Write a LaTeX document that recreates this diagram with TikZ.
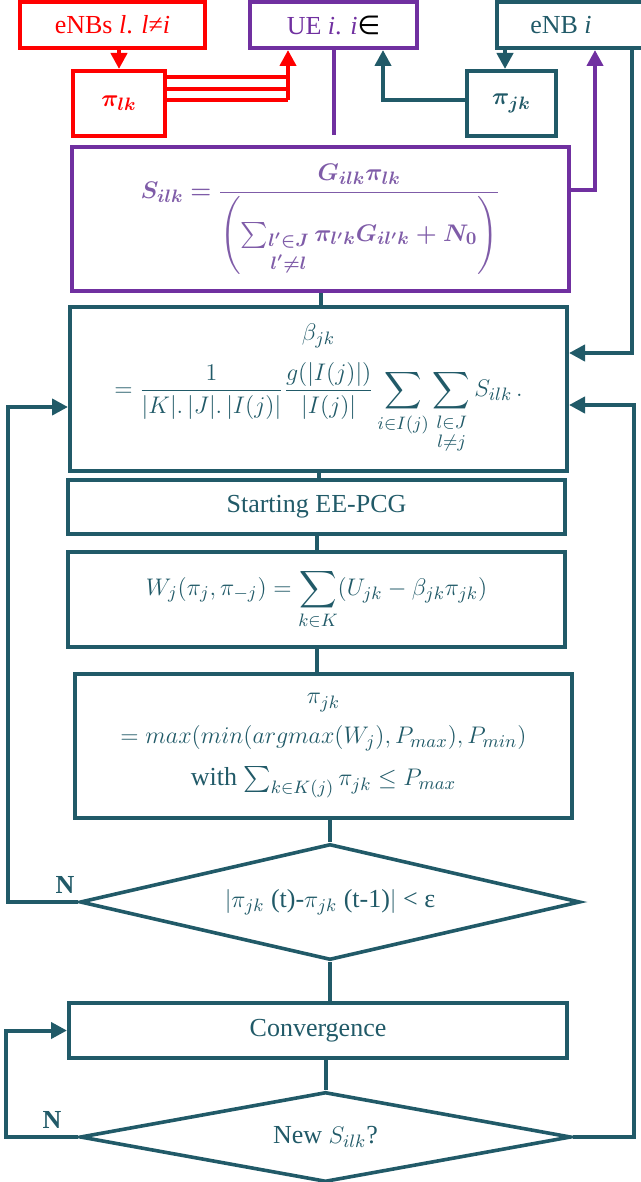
\documentclass[tikz,border=0pt]{standalone}
\usepackage{amsmath,amssymb}
\usepackage{bm}
\usepackage{fontspec}
\setmainfont{Liberation Serif}
\newfontfamily\symfont{DejaVu Sans}
\usepackage{tikz}
\usetikzlibrary{arrows.meta,shapes.geometric}
\definecolor{flow}{HTML}{215A68}
\definecolor{ue}{HTML}{7030A0}
\definecolor{uetext}{HTML}{7F5CA8}
\definecolor{nbr}{HTML}{FF0000}
\tikzset{
  box/.style={draw=flow, line width=2pt, text=flow, inner sep=2pt, align=center, font=\fontsize{13}{16}\selectfont},
  uebox/.style={draw=ue, line width=2pt, text=ue, inner sep=2pt, align=center, font=\fontsize{13}{16}\selectfont},
  nbrbox/.style={draw=nbr, line width=2pt, text=nbr, inner sep=2pt, align=center, font=\fontsize{13}{16}\selectfont},
  decide/.style={diamond, aspect=4, draw=flow, line width=1.8pt, text=flow, inner sep=0pt, font=\fontsize{13}{16}\selectfont},
  link/.style={draw=flow, line width=2pt},
  ueline/.style={draw=ue, line width=2pt},
  nbrline/.style={draw=nbr, line width=2pt},
  arr/.style={-{Triangle[length=8pt,width=8pt]}},
  nlab/.style={text=flow, font=\fontsize{13}{16}\selectfont\bfseries},
}
\begin{document}
\begin{tikzpicture}[x=0.5pt,y=-0.5pt]
  \useasboundingbox (0,0) rectangle (641,1182);

  % top row
  \node[nbrbox, minimum width=92.5pt, minimum height=23pt] (enbs) at (112.5,25) {eNBs \textit{l}. \textit{l}≠\textit{i}};
  \node[uebox, minimum width=83.5pt, minimum height=23pt] (uebx) at (333.5,25) {UE \textit{i}. \textit{i}{\symfont\color{black}∈}};
  \node[box, minimum width=74pt, minimum height=23pt] (enb) at (571,25) {eNB \textit{i}\hspace{10pt}};
  \node[nbrbox, minimum width=46pt, minimum height=32.5pt] (pilk) at (119,103.5) {$\bm{\pi_{lk}}$};
  \node[box, minimum width=44.5pt, minimum height=32.5pt] (pijk) at (511.5,103.5) {$\bm{\pi_{jk}}$};

  % main column
  \node[uebox, text=uetext, minimum width=248.5pt, minimum height=72pt] (sbox) at (320.5,219)
    {$\bm{S_{ilk}=\dfrac{G_{ilk}\pi_{lk}}{\left(\sum_{\substack{l'\in J\\[2pt] l'\neq l}}\pi_{l'k}G_{il'k}+N_0\right)}}$};
  \node[box, minimum width=248.5pt, minimum height=82pt] (beta) at (318.5,389)
    {$\beta_{jk}$\\[6pt] $=\dfrac{1}{|K|.\,|J|.\,|I(j)|}\dfrac{g(|I(j)|)}{|I(j)|}\displaystyle\sum_{i\in I(j)}\sum_{\substack{l\in J\\[2pt] l\neq j}}S_{ilk}\,.$};
  \node[box, minimum width=248.5pt, minimum height=27pt] (start) at (316.5,507) {Starting EE-PCG};
  \node[box, minimum width=248.5pt, minimum height=47.5pt] (wbox) at (316.5,599.5)
    {$W_j(\pi_j,\pi_{-j})=\displaystyle\sum_{k\in K}(U_{jk}-\beta_{jk}\pi_{jk})$};
  \node[box, minimum width=248.5pt, minimum height=72pt] (pibox) at (323.5,746)
    {$\pi_{jk}$\\[4pt] $=max(min(argmax(W_j),P_{max}),P_{min})$\\[5pt] with $\sum_{k\in K(j)}\pi_{jk}\le P_{max}$};
  \node[decide, minimum width=250pt, minimum height=58pt] (d1) at (330,902)
    {$|\pi_{jk}$ (t)-$\pi_{jk}$ (t-1)$|$ < ε};
  \node[box, minimum width=249pt, minimum height=27.5pt] (conv) at (318,1030.5) {Convergence};
  \node[decide, minimum width=245.5pt, minimum height=45pt] (d2) at (325.5,1137) {New $S_{ilk}$?};

  \node[nlab] (n1) at (65,885) {N};
  \node[nlab] (n2) at (52,1120) {N};

  % inputs
  \draw[nbrline,arr] (pilk.north |- enbs.south) -- (pilk.north);
  \coordinate (bus) at (288,100);
  \foreach \y in {77,89,100}
    \draw[nbrline] (pilk.east |- 0,\y) -- (bus |- 0,\y);
  \draw[nbrline,arr] (bus) -- (bus |- uebx.south);
  \coordinate (uetail) at (333.5,135);
  \draw[ueline] (uebx.south) -- (uetail);
  \draw[link,arr] ([yshift=1.75pt]pijk.west) -| ([xshift=24.75pt]uebx.south);
  \draw[link,arr] ([xshift=-3.25pt]pijk.north |- enb.south) -- ([xshift=-3.25pt]pijk.north);
  \draw[ueline,arr] ([yshift=14.5pt]sbox.east) -| ([xshift=12pt]enb.south);
  \draw[link,arr] ([xshift=30.5pt]enb.south) |- ([yshift=18pt]beta.east);

  % column
  \draw[link] (sbox.south) -- (sbox.south |- beta.north);
  \draw[link] (beta.south) -- (beta.south |- start.north);
  \draw[link] (start.south) -- (start.south |- wbox.north);
  \draw[link] (wbox.south) -- (wbox.south |- pibox.north);
  \draw[link] (d1.north |- pibox.south) -- (d1.north);
  \draw[link] (d1.south) -- (d1.south |- conv.north);
  \draw[link] (d2.north |- conv.south) -- (d2.north);

  % loops
  \draw[link,arr] (d1.west) -- ++(-70,0) |- ([yshift=-9pt]beta.west);
  \draw[link,arr] (d2.west) -- ++(-72,0) |- (conv.west);
  \draw[link,arr] (d2.east) -- ++(61,0) |- ([yshift=-8pt]beta.east);
\end{tikzpicture}
\end{document}
